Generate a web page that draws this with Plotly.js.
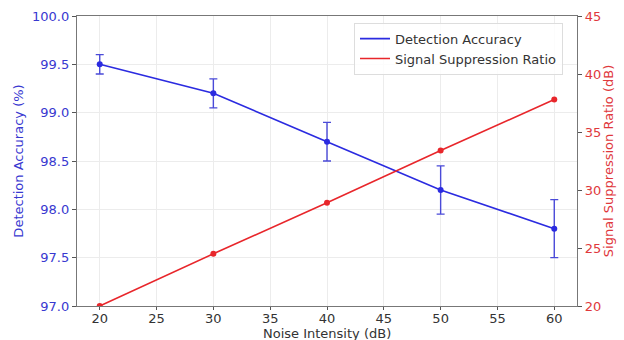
<!DOCTYPE html>
<html>
<head>
<meta charset="utf-8">
<script src="https://cdn.plot.ly/plotly-3.0.1.min.js"></script>
<style>html,body{margin:0;padding:0;background:#fff;}#chart{width:624px;height:340px;}</style>
</head>
<body>
<div id="chart"></div>
<script>
const noiseIntensity = [20, 30, 40, 50, 60];
const detectionAccuracy = [99.5, 99.2, 98.7, 98.2, 97.8];
const accuracyError = [0.1, 0.15, 0.2, 0.25, 0.3];
const suppressionRatio = [20.0, 24.5, 28.9, 33.4, 37.8];
const seriesNames = ['Detection Accuracy', 'Signal Suppression Ratio'];
const xTitle = 'Noise Intensity (dB)';

const blue = '#2b2be0';
const red = '#e8262b';
const font = 'DejaVu Sans, sans-serif';
const fs = 13;

const traces = [
  {
    x: noiseIntensity, y: detectionAccuracy, type: 'scatter', mode: 'lines+markers',
    line: {color: blue, width: 1.6}, marker: {color: blue, size: 6},
    error_y: {type: 'data', array: accuracyError, visible: true, color: '#4a4ad8', thickness: 1.4, width: 4},
    showlegend: false, yaxis: 'y'
  },
  {
    x: noiseIntensity, y: suppressionRatio, type: 'scatter', mode: 'lines+markers',
    line: {color: red, width: 1.6}, marker: {color: red, size: 6},
    showlegend: false, yaxis: 'y2'
  },
  {x: [null], y: [null], type: 'scatter', mode: 'lines', name: seriesNames[0], line: {color: blue, width: 1.6}},
  {x: [null], y: [null], type: 'scatter', mode: 'lines', name: seriesNames[1], line: {color: red, width: 1.6}, yaxis: 'y2'}
];

const layout = {
  width: 624, height: 340,
  margin: {l: 77, r: 47, t: 16, b: 34},
  paper_bgcolor: '#fff', plot_bgcolor: '#fff',
  font: {family: font, size: fs, color: '#333'},
  xaxis: {
    range: [18, 62], tickvals: [20, 25, 30, 35, 40, 45, 50, 55, 60],
    showgrid: true, gridcolor: '#ececec', gridwidth: 1,
    ticks: 'outside', ticklen: 3, tickcolor: '#555', ticklabelstandoff: -3,
    showline: true, linecolor: '#777', linewidth: 1.2, mirror: true, zeroline: false,
    tickfont: {family: font, size: fs, color: '#333'}
  },
  yaxis: {
    range: [97, 100], dtick: 0.5, tickformat: '.1f',
    showgrid: true, gridcolor: '#ececec', gridwidth: 1,
    ticks: 'outside', ticklen: 4, tickcolor: '#555',
    showline: true, linecolor: '#777', linewidth: 1.2, zeroline: false,
    tickfont: {family: font, size: fs, color: '#3838d0'},
    title: {text: 'Detection Accuracy (%)', font: {family: font, size: fs, color: '#3838d0'}, standoff: 5}
  },
  yaxis2: {
    range: [20, 45], dtick: 5, overlaying: 'y', side: 'right',
    showgrid: false, zeroline: false,
    ticks: 'outside', ticklen: 4, tickcolor: '#555',
    showline: true, linecolor: '#777', linewidth: 1.2,
    tickfont: {family: font, size: fs, color: '#e0383c'},
    title: {text: 'Signal Suppression Ratio (dB)', font: {family: font, size: fs, color: '#e0383c'}, standoff: 3}
  },
  annotations: [{
    text: xTitle, xref: 'paper', yref: 'paper', x: 0.5, y: 0,
    xanchor: 'center', yanchor: 'top', yshift: -18, showarrow: false,
    font: {family: font, size: fs, color: '#333'}
  }],
  legend: {
    x: 0.554, y: 0.977, xanchor: 'left', yanchor: 'top',
    bgcolor: 'rgba(255,255,255,0.85)', bordercolor: '#dddddd', borderwidth: 1,
    font: {family: font, size: fs, color: '#333'},
    tracegroupgap: 0
  },
  showlegend: true
};

Plotly.newPlot('chart', traces, layout, {displayModeBar: false, staticPlot: true});
</script>
</body>
</html>
